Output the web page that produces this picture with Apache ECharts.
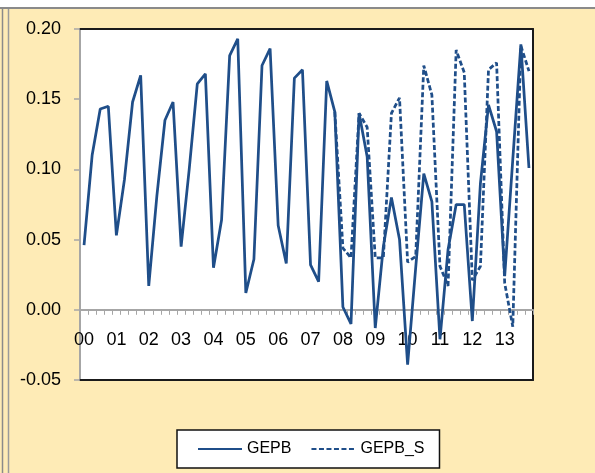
<!DOCTYPE html>
<html>
<head>
<meta charset="utf-8">
<script src="https://cdn.jsdelivr.net/npm/echarts@6/dist/echarts.min.js"></script>
<style>
  html, body { margin: 0; padding: 0; background: #ffffff; }
  #chart { width: 595px; height: 473px; }
</style>
</head>
<body>
<div id="chart"></div>
<script>
// Year tick labels (quarterly data, 4 points per year)
var years = ['00','01','02','03','04','05','06','07','08','09','10','11','12','13'];
var quarters = ['Q1','Q2','Q3','Q4'];

// GEPB (actual)
var gepb = [
  0.046, 0.110, 0.143, 0.145,
  0.053, 0.093, 0.148, 0.167,
  0.017, 0.081, 0.135, 0.148,
  0.045, 0.100, 0.161, 0.168,
  0.030, 0.064, 0.181, 0.193,
  0.012, 0.036, 0.174, 0.186,
  0.060, 0.033, 0.165, 0.171,
  0.032, 0.020, 0.163, 0.141,
  0.002, -0.010, 0.140, 0.109,
  -0.013, 0.045, 0.080, 0.050,
  -0.039, 0.030, 0.097, 0.077,
  -0.021, 0.043, 0.075, 0.075,
  -0.008, 0.090, 0.146, 0.127,
  0.024, 0.107, 0.189, 0.101
];

// GEPB_S (simulated), begins at 2007Q4
var gepbS = [
  null, null, null, null,
  null, null, null, null,
  null, null, null, null,
  null, null, null, null,
  null, null, null, null,
  null, null, null, null,
  null, null, null, null,
  null, null, null, 0.141,
  0.044, 0.037, 0.140, 0.130,
  0.037, 0.037, 0.140, 0.151,
  0.034, 0.038, 0.174, 0.153,
  0.031, 0.017, 0.185, 0.169,
  0.021, 0.031, 0.171, 0.176,
  0.019, -0.012, 0.188, 0.170
];

var yMin = -0.05, yMax = 0.20, yStep = 0.05;

var categories = [];
years.forEach(function (y) { quarters.forEach(function (q) { categories.push(y + q); }); });

var FONT = "'Liberation Sans', Arial, sans-serif";
var BLUE = '#1f4e89';
var BEIGE = '#feebb6';
var GRID_TOP = 29, GRID_BOTTOM = 93, H = 473;
var gridH = H - GRID_TOP - GRID_BOTTOM;
var zeroOffset = -gridH * (0 - yMin) / (yMax - yMin);

var chart = echarts.init(document.getElementById('chart'), null, { renderer: 'canvas' });
chart.setOption({
  backgroundColor: '#ffffff',
  animation: false,
  graphic: [
    { type: 'rect', z: -100, shape: { x: 0, y: 8, width: 595, height: 465 }, style: { fill: BEIGE } },
    { type: 'line', z: -99, shape: { x1: 2.5, y1: 8, x2: 2.5, y2: 473 }, style: { stroke: '#8a8a8a', lineWidth: 1.5 } },
    { type: 'line', z: -99, shape: { x1: 8.5, y1: 8, x2: 8.5, y2: 473 }, style: { stroke: '#9a9a9a', lineWidth: 1.5 } },
    { type: 'line', z: -99, shape: { x1: 0, y1: 8, x2: 595, y2: 8 }, style: { stroke: '#8a8a8a', lineWidth: 2 } }
  ],
  grid: {
    left: 80, top: GRID_TOP, right: 62, bottom: GRID_BOTTOM,
    show: true, backgroundColor: '#ffffff', borderWidth: 0
  },
  legend: {
    left: 177, top: 430, orient: 'horizontal',
    backgroundColor: '#ffffff',
    borderColor: '#111111', borderWidth: 1.5, borderRadius: 0,
    padding: [11, 15, 11, 20],
    itemWidth: 44, itemHeight: 16, itemGap: 19,
    itemStyle: { opacity: 0 },
    textStyle: { fontFamily: FONT, fontSize: 16, color: '#000000' },
    data: ['GEPB', 'GEPB_S']
  },
  xAxis: [
    {
      type: 'category',
      data: categories,
      boundaryGap: true,
      position: 'bottom',
      offset: zeroOffset,
      axisLine: { onZero: false, lineStyle: { color: '#a6a6a6', width: 2 } },
      axisTick: { show: true, interval: 0, length: 5, lineStyle: { color: '#a6a6a6', width: 1 } },
      axisLabel: {
        interval: 3, margin: 21,
        fontFamily: FONT, fontSize: 18, color: '#000000',
        formatter: function (v) { return v.slice(0, 2); }
      },
      splitLine: { show: false }
    },
    {
      type: 'category', data: categories, position: 'bottom',
      axisLine: { onZero: false, lineStyle: { color: '#1a1a1a', width: 2 } },
      axisTick: { show: false }, axisLabel: { show: false }, splitLine: { show: false }
    },
    {
      type: 'category', data: categories, position: 'top',
      axisLine: { onZero: false, lineStyle: { color: '#1a1a1a', width: 2 } },
      axisTick: { show: false }, axisLabel: { show: false }, splitLine: { show: false }
    }
  ],
  yAxis: [
    {
      type: 'value',
      min: yMin, max: yMax, interval: yStep,
      axisLine: { show: true, lineStyle: { color: '#a6a6a6', width: 2 } },
      axisTick: { show: true, length: 6, lineStyle: { color: '#a6a6a6', width: 1.5 } },
      axisLabel: {
        margin: 19, fontFamily: FONT, fontSize: 18, color: '#000000',
        formatter: function (v) { return v.toFixed(2); }
      },
      splitLine: { show: false }
    },
    {
      type: 'value', position: 'right',
      min: yMin, max: yMax, interval: yStep,
      axisLine: { show: true, onZero: false, lineStyle: { color: '#1a1a1a', width: 2 } },
      axisTick: { show: false }, axisLabel: { show: false }, splitLine: { show: false }
    }
  ],
  series: [
    {
      name: 'GEPB', type: 'line', data: gepb, symbol: 'none', smooth: false,
      xAxisIndex: 0, yAxisIndex: 0,
      lineStyle: { color: BLUE, width: 2.75, type: 'solid' },
      itemStyle: { color: BLUE }, z: 3
    },
    {
      name: 'GEPB_S', type: 'line', data: gepbS, symbol: 'none', smooth: false,
      xAxisIndex: 0, yAxisIndex: 0, connectNulls: false,
      lineStyle: { color: BLUE, width: 2.75, type: [5, 2.5] },
      itemStyle: { color: BLUE }, z: 4
    }
  ]
});
</script>
</body>
</html>
